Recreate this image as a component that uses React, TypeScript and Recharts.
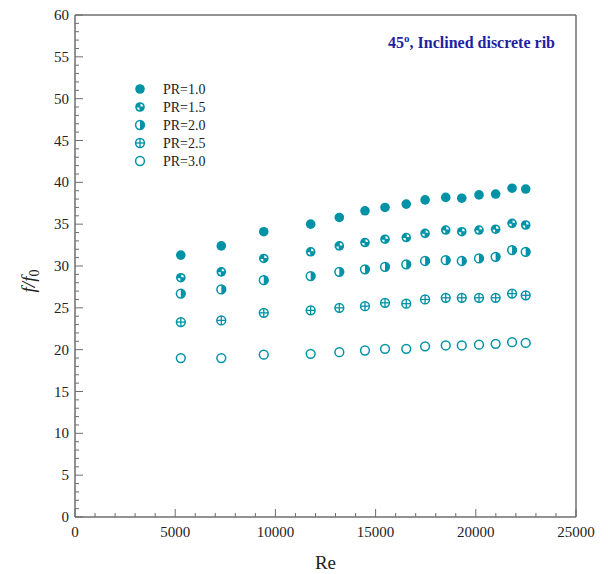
import { ScatterChart, Scatter, XAxis, YAxis, Legend, Label, ReferenceLine } from "recharts";

// Reynolds numbers shared by every pitch ratio
const reynolds = [5280, 7300, 9420, 11760, 13190, 14470, 15470, 16530, 17470, 18500, 19300, 20160, 20990, 21810, 22490];

// friction factor ratio f/f0 per pitch ratio
const pr10 = [31.3, 32.4, 34.1, 35.0, 35.8, 36.6, 37.0, 37.4, 37.9, 38.2, 38.1, 38.5, 38.6, 39.3, 39.2];
const pr15 = [28.6, 29.3, 30.9, 31.7, 32.4, 32.8, 33.2, 33.4, 33.9, 34.3, 34.1, 34.3, 34.4, 35.1, 34.9];
const pr20 = [26.7, 27.2, 28.3, 28.8, 29.3, 29.6, 29.9, 30.2, 30.6, 30.7, 30.6, 30.9, 31.1, 31.9, 31.7];
const pr25 = [23.3, 23.5, 24.4, 24.7, 25.0, 25.2, 25.6, 25.5, 26.0, 26.2, 26.2, 26.2, 26.2, 26.7, 26.5];
const pr30 = [19.0, 19.0, 19.4, 19.5, 19.7, 19.9, 20.1, 20.1, 20.4, 20.5, 20.5, 20.6, 20.7, 20.9, 20.8];

const xTicks = [0, 1000, 2000, 3000, 4000, 5000, 6000, 7000, 8000, 9000, 10000, 11000, 12000, 13000, 14000, 15000, 16000, 17000, 18000, 19000, 20000, 21000, 22000, 23000, 24000, 25000];
const yTicks = [0, 1, 2, 3, 4, 5, 6, 7, 8, 9, 10, 11, 12, 13, 14, 15, 16, 17, 18, 19, 20, 21, 22, 23, 24, 25, 26, 27, 28, 29, 30, 31, 32, 33, 34, 35, 36, 37, 38, 39, 40, 41, 42, 43, 44, 45, 46, 47, 48, 49, 50, 51, 52, 53, 54, 55, 56, 57, 58, 59, 60];

const X_MAX = 25000;
const Y_MAX = 60;

type Kind = "full" | "quarter" | "half" | "cross" | "open";

const series: { name: string; kind: Kind; values: number[] }[] = [
  { name: "PR=1.0", kind: "full", values: pr10 },
  { name: "PR=1.5", kind: "quarter", values: pr15 },
  { name: "PR=2.0", kind: "half", values: pr20 },
  { name: "PR=2.5", kind: "cross", values: pr25 },
  { name: "PR=3.0", kind: "open", values: pr30 },
];

const TEAL = "#0093a6";
const AXIS = "#6e6e6e";
const FONT = "'Liberation Serif', 'Times New Roman', serif";

function Marker({ kind, cx, cy }: { kind: Kind; cx: number; cy: number }) {
  const r = 4.4;
  const ri = r - 1.2;
  if (kind === "full") return <circle cx={cx} cy={cy} r={r + 0.4} fill={TEAL} />;
  if (kind === "open")
    return <circle cx={cx} cy={cy} r={r} fill="#fff" stroke={TEAL} strokeWidth={1.5} />;
  if (kind === "cross")
    return (
      <g stroke={TEAL} strokeWidth={1.3} fill="none">
        <circle cx={cx} cy={cy} r={r} strokeWidth={1.5} />
        <line x1={cx - r} x2={cx + r} y1={cy} y2={cy} />
        <line x1={cx} x2={cx} y1={cy - r} y2={cy + r} />
      </g>
    );
  if (kind === "half")
    return (
      <g>
        <circle cx={cx} cy={cy} r={r} fill="#fff" stroke={TEAL} strokeWidth={1.5} />
        <path d={`M${cx},${cy - r} A${r},${r} 0 0 1 ${cx},${cy + r} Z`} fill={TEAL} />
      </g>
    );
  // quarter: solid disc with two white opposite quadrants
  return (
    <g>
      <circle cx={cx} cy={cy} r={r + 0.4} fill={TEAL} />
      <path d={`M${cx + 0.5},${cy - 0.5} L${cx + 0.5},${cy - ri} A${ri},${ri} 0 0 1 ${cx + ri},${cy - 0.5} Z`} fill="#fff" />
      <path d={`M${cx - 0.5},${cy + 0.5} L${cx - 0.5},${cy + ri} A${ri},${ri} 0 0 1 ${cx - ri},${cy + 0.5} Z`} fill="#fff" />
    </g>
  );
}

function XTick(props: any) {
  const { x, y, payload } = props;
  const major = payload.value % 5000 === 0;
  return (
    <g>
      <line x1={x} x2={x} y1={y} y2={y - (major ? 8 : 4)} stroke={AXIS} strokeWidth={1} />
      {major && (
        <text x={x} y={y + 20} textAnchor="middle" fontSize={15} fontFamily={FONT} fill="#222">
          {payload.value}
        </text>
      )}
    </g>
  );
}

function YTick(props: any) {
  const { x, y, payload } = props;
  const major = payload.value % 5 === 0;
  return (
    <g>
      <line x1={x} x2={x + (major ? 8 : 4)} y1={y} y2={y} stroke={AXIS} strokeWidth={1} />
      {major && (
        <text x={x - 6} y={y + 5} textAnchor="end" fontSize={15} fontFamily={FONT} fill="#222">
          {payload.value}
        </text>
      )}
    </g>
  );
}

function LegendBox(props: any) {
  const items = props.payload || [];
  return (
    <svg width={110} height={100}>
      {items.map((item: any, i: number) => {
        const s = series.find((d) => d.name === item.value);
        if (!s) return null;
        const cy = 9 + i * 18;
        return (
          <g key={s.name}>
            <Marker kind={s.kind} cx={10} cy={cy} />
            <text x={33} y={cy + 5} fontSize={14} fontFamily={FONT} fill="#222">
              {s.name}
            </text>
          </g>
        );
      })}
    </svg>
  );
}

function Title(p: any) {
  const vb = p.viewBox;
  return (
    <text
      x={vb.x + vb.width - 21}
      y={vb.y + 33}
      textAnchor="end"
      fontSize={16}
      fontWeight="bold"
      fontFamily={FONT}
      fill="#1f1fa3"
    >
      45<tspan fontSize={11} dy={-6}>o</tspan>
      <tspan dy={6}>, Inclined discrete rib</tspan>
    </text>
  );
}

export default function App() {
  const data = series.map((s) => s.values.map((v, i) => ({ re: reynolds[i], ratio: v })));

  return (
    <div style={{ position: "absolute", left: 0, top: 0, background: "#fff" }}>
      <ScatterChart width={608} height={574} margin={{ top: 15, right: 32, bottom: 0, left: 0 }}>
        <XAxis
          type="number"
          dataKey="re"
          domain={[0, X_MAX]}
          ticks={xTicks}
          interval={0}
          height={57}
          tickSize={0}
          tickMargin={0}
          tickLine={false}
          tick={<XTick />}
          axisLine={{ stroke: AXIS, strokeWidth: 1.5 }}
        >
          <Label
            content={(p: any) => (
              <text
                x={p.viewBox.x + p.viewBox.width / 2}
                y={569}
                textAnchor="middle"
                fontSize={19}
                fontFamily={FONT}
                fill="#222"
              >
                Re
              </text>
            )}
          />
        </XAxis>
        <YAxis
          type="number"
          dataKey="ratio"
          domain={[0, Y_MAX]}
          ticks={yTicks}
          interval={0}
          width={75}
          tickSize={0}
          tickMargin={0}
          tickLine={false}
          tick={<YTick />}
          axisLine={{ stroke: AXIS, strokeWidth: 1.5 }}
        >
          <Label
            content={() => (
              <text
                x={35}
                y={281}
                transform="rotate(-90, 35, 281)"
                textAnchor="middle"
                fontSize={19}
                fontFamily={FONT}
                fill="#222"
              >
                <tspan fontStyle="italic">f</tspan>
                <tspan fontStyle="italic">/f</tspan>
                <tspan fontSize={14} dy={4}>0</tspan>
              </text>
            )}
          />
        </YAxis>
        {/* frame: top and right edges of the plot box */}
        <ReferenceLine y={Y_MAX} stroke={AXIS} strokeWidth={1.5}>
          <Label content={<Title />} />
        </ReferenceLine>
        <ReferenceLine x={X_MAX} stroke={AXIS} strokeWidth={1.5} />
        <Legend
          layout="vertical"
          align="center"
          verticalAlign="middle"
          content={<LegendBox />}
          wrapperStyle={{ position: "absolute", left: 130, top: 80, width: 110, height: 100 }}
        />
        {series.map((s, i) => (
          <Scatter
            key={s.name}
            name={s.name}
            data={data[i]}
            fill={TEAL}
            isAnimationActive={false}
            shape={(p: any) => <Marker kind={s.kind} cx={p.cx} cy={p.cy} />}
          />
        ))}
      </ScatterChart>
    </div>
  );
}
